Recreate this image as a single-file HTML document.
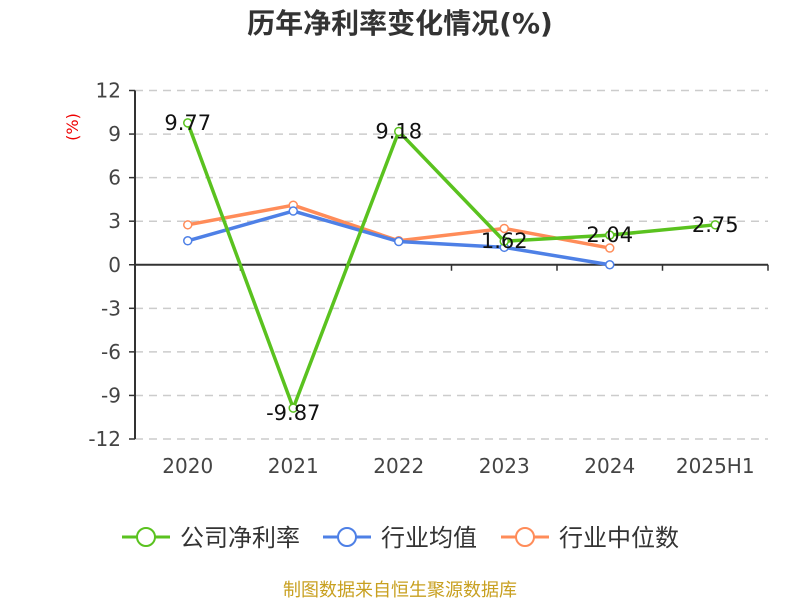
<!DOCTYPE html>
<html><head><meta charset="utf-8"><style>
body{margin:0;background:#fff;font-family:"DejaVu Sans","Noto Sans CJK SC",sans-serif}
</style></head><body>
<svg id="chart" width="800" height="600" xmlns="http://www.w3.org/2000/svg" font-family="DejaVu Sans, Noto Sans CJK SC, sans-serif">
<text x="400" y="33" text-anchor="middle" font-size="28" font-weight="bold" fill="#333">历年净利率变化情况(%)</text>
<text x="78" y="127" font-size="16" fill="#e00" transform="rotate(-90 78 127)" text-anchor="middle">(%)</text>
<g id="grid"></g><g id="axes"></g><g id="series"></g><g id="labels"></g>
<g font-size="24" fill="#333">
<g><line x1="122" y1="537" x2="170" y2="537" stroke="#5ac21f" stroke-width="3"/><circle cx="146" cy="537" r="9" fill="#fff" stroke="#5ac21f" stroke-width="2"/><text x="180" y="546">公司净利率</text></g>
<g><line x1="323" y1="537" x2="371" y2="537" stroke="#4e80e6" stroke-width="3"/><circle cx="347" cy="537" r="9" fill="#fff" stroke="#4e80e6" stroke-width="2"/><text x="381" y="546">行业均值</text></g>
<g><line x1="501" y1="537" x2="549" y2="537" stroke="#ff8c59" stroke-width="3"/><circle cx="525" cy="537" r="9" fill="#fff" stroke="#ff8c59" stroke-width="2"/><text x="559" y="546">行业中位数</text></g>
</g>
<text x="400" y="596" text-anchor="middle" font-size="18" fill="#c8a020">制图数据来自恒生聚源数据库</text>
</svg>
<script>
const categories=["2020","2021","2022","2023","2024","2025H1"];
const companyValues=[9.77,-9.87,9.18,1.62,2.04,2.75];
const industryAvg=[1.65,3.7,1.6,1.2,0.0];
const industryMedian=[2.75,4.1,1.65,2.5,1.15];
const yTicks=[12,9,6,3,0,-3,-6,-9,-12];
const NS="http://www.w3.org/2000/svg";
const x0=135,x1=768,yTop=90.5,yBot=439;
const band=(x1-x0)/categories.length;
const xs=i=>x0+band*(i+0.5);
const ys=v=>yTop+(12-v)/24*(yBot-yTop);
function mk(t,a,p){const e=document.createElementNS(NS,t);for(const k in a)e.setAttribute(k,a[k]);p.appendChild(e);return e;}
const grid=document.getElementById('grid'),axes=document.getElementById('axes'),ser=document.getElementById('series'),lab=document.getElementById('labels');
yTicks.forEach(v=>{
 if(v!==0){const g=mk('line',{x1:x0,x2:x1,y1:ys(v),y2:ys(v),stroke:'#ccc','stroke-dasharray':'8,6','stroke-width':1.5},grid);
 
 }
 const t=mk('line',{x1:x0-6,x2:x0,y1:ys(v),y2:ys(v),stroke:'#333','stroke-width':1.5},axes);
 
 
 const l=mk('text',{x:x0-14,y:ys(v)+7,'text-anchor':'end','font-size':20,fill:'#444'},axes);l.textContent=v;
 
 
});
const ya=mk('line',{x1:x0,x2:x0,y1:yTop,y2:yBot,stroke:'#333','stroke-width':2},axes);


const xa=mk('line',{x1:x0,x2:x1,y1:ys(0),y2:ys(0),stroke:'#333','stroke-width':2},axes);


for(let i=0;i<=categories.length;i++){const t=mk('line',{x1:x0+band*i,x2:x0+band*i,y1:ys(0),y2:ys(0)+6,stroke:'#333','stroke-width':1.5},axes);
 
 }
categories.forEach((c,i)=>{const l=mk('text',{x:xs(i),y:473,'text-anchor':'middle','font-size':20,fill:'#444'},axes);l.textContent=c;
 
 });
function series(vals,color,name){
 const p=mk('polyline',{points:vals.map((v,i)=>xs(i)+','+ys(v)).join(' '),fill:'none',stroke:color,'stroke-width':3.5,'stroke-linejoin':'round'},ser);
 
 
 vals.forEach((v,i)=>{const c=mk('circle',{cx:xs(i),cy:ys(v),r:4,fill:'#fff',stroke:color,'stroke-width':1.5},ser);
 
 });
}
series(industryMedian,'#ff8c59','industry-median');
series(industryAvg,'#4e80e6','industry-avg');
series(companyValues,'#5ac21f','company');
companyValues.forEach((v,i)=>{const y=v<0?ys(v)+12:ys(v)+7;
 const l=mk('text',{x:xs(i),y:y,'text-anchor':'middle','font-size':21,fill:'#111'},lab);l.textContent=v.toFixed(2);
 
 });
</script>
</body></html>
